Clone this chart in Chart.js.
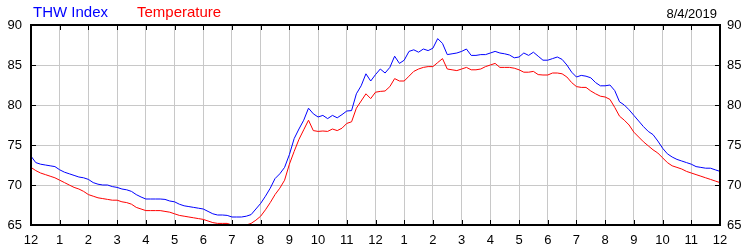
<!DOCTYPE html>
<html>
<head>
<meta charset="utf-8">
<script src="https://cdn.jsdelivr.net/npm/chart.js@4/dist/chart.umd.min.js"></script>
<style>
html,body{margin:0;padding:0;background:#fff;}
#wrap{width:750px;height:250px;position:relative;}
</style>
</head>
<body>
<div id="wrap"><canvas id="c" width="750" height="250"></canvas></div>
<script>
const seriesNames = ['THW Index', 'Temperature'];
const dateLabel = '8/4/2019';
const sampleMinutes = 10;
const hourLabels = ['12','1','2','3','4','5','6','7','8','9','10','11','12','1','2','3','4','5','6','7','8','9','10','11','12'];
const yTicks = [65, 70, 75, 80, 85, 90];

const thwIndex = [
73.6,72.8,72.6,72.5,72.4,72.3,
71.9,71.6,71.4,71.2,71.0,70.9,
70.7,70.3,70.1,70.0,70.0,69.8,
69.7,69.5,69.4,69.2,68.8,68.5,
68.25,68.25,68.25,68.25,68.2,68.0,
67.9,67.6,67.4,67.3,67.2,67.1,
67.0,66.7,66.4,66.25,66.25,66.2,
66.0,66.0,66.0,66.1,66.3,67.0,
67.7,68.6,69.6,70.8,71.4,72.2,
73.8,75.8,77.0,78.1,79.6,78.9,
78.5,78.7,78.3,78.7,78.4,78.8,
79.25,79.3,81.4,82.4,83.9,83.0,
83.8,84.5,84.0,84.7,86.1,85.2,
85.6,86.7,86.9,86.6,87.0,86.8,
87.1,88.3,87.7,86.3,86.4,86.5,
86.7,87.0,86.2,86.2,86.3,86.3,
86.5,86.7,86.5,86.4,86.25,85.9,
86.0,86.5,86.2,86.6,86.1,85.6,
85.6,85.8,86.0,85.7,85.0,84.1,
83.5,83.7,83.6,83.4,82.8,82.4,
82.4,82.5,81.8,80.4,80.0,79.4,
78.7,78.0,77.3,76.7,76.3,75.5,
74.6,73.9,73.5,73.2,73.0,72.8,
72.6,72.3,72.2,72.1,72.1,71.9,
71.7];

const temperature = [
72.2,71.8,71.5,71.3,71.1,70.9,
70.6,70.3,70.0,69.7,69.5,69.2,
68.8,68.6,68.4,68.3,68.2,68.1,
68.1,67.9,67.8,67.6,67.2,67.0,
66.8,66.8,66.8,66.8,66.7,66.6,
66.4,66.2,66.1,66.0,65.9,65.8,
65.7,65.5,65.3,65.2,65.2,65.2,
65.0,65.0,65.0,65.0,65.2,65.6,
66.1,66.9,67.8,68.8,69.6,70.6,
72.6,74.2,75.7,76.9,78.1,76.8,
76.7,76.75,76.7,77.0,76.8,77.1,
77.7,77.9,79.6,80.5,81.4,80.8,
81.6,81.7,81.75,82.3,83.3,83.0,
83.0,83.6,84.2,84.5,84.7,84.8,
84.8,85.3,85.8,84.5,84.4,84.3,
84.5,84.7,84.4,84.4,84.5,84.8,
85.0,85.2,84.7,84.7,84.7,84.6,
84.4,84.1,84.1,84.2,83.8,83.75,
83.75,84.0,84.0,83.9,83.5,82.8,
82.3,82.2,82.2,81.75,81.4,81.1,
81.0,80.7,79.7,78.6,78.1,77.5,
76.6,76.0,75.4,74.9,74.4,74.0,
73.4,72.8,72.4,72.2,72.0,71.7,
71.5,71.3,71.1,70.9,70.7,70.5,
70.3];

const toPoints = arr => arr.map((v, i) => ({x: i * sampleMinutes / 60, y: v}));

const FONT = 'Liberation Sans, Arial, sans-serif';

const framePlugin = {
  id: 'frame',
  afterDatasetsDraw(chart) {
    const {ctx, chartArea: a, scales} = chart;
    ctx.save();
    // inward tick marks
    ctx.strokeStyle = '#000';
    ctx.lineWidth = 1;
    ctx.beginPath();
    for (let h = 0; h < hourLabels.length; h++) {
      const x = Math.round(scales.x.getPixelForValue(h)) + 0.5;
      ctx.moveTo(x, a.top); ctx.lineTo(x, a.top + 5);
      ctx.moveTo(x, a.bottom); ctx.lineTo(x, a.bottom - 5);
    }
    yTicks.forEach(v => {
      const y = Math.round(scales.y.getPixelForValue(v)) + 0.5;
      ctx.moveTo(a.left, y); ctx.lineTo(a.left + 5, y);
      ctx.moveTo(a.right, y); ctx.lineTo(a.right - 5, y);
    });
    ctx.stroke();
    // frame
    ctx.lineWidth = 2;
    ctx.strokeRect(Math.round(a.left), Math.round(a.top), Math.round(a.right - a.left), Math.round(a.bottom - a.top));
    // titles
    ctx.font = '15px ' + FONT;
    ctx.textBaseline = 'alphabetic';
    ctx.textAlign = 'left';
    ctx.fillStyle = '#0000ff';
    ctx.fillText(seriesNames[0], 33, 17);
    ctx.fillStyle = '#ff0000';
    ctx.fillText(seriesNames[1], 137, 17);
    ctx.font = '13px ' + FONT;
    ctx.fillStyle = '#000';
    ctx.textAlign = 'right';
    ctx.fillText(dateLabel, 717, 18);
    ctx.restore();
  }
};

new Chart(document.getElementById('c'), {
  type: 'line',
  data: {
    datasets: [
      {label: seriesNames[0], data: toPoints(thwIndex), borderColor: '#0000ff', borderWidth: 1, pointRadius: 0, tension: 0, fill: false, yAxisID: 'y'},
      {label: seriesNames[1], data: toPoints(temperature), borderColor: '#ff0000', borderWidth: 1, pointRadius: 0, tension: 0, fill: false, yAxisID: 'y'}
    ]
  },
  options: {
    responsive: false,
    animation: false,
    devicePixelRatio: 1,
    layout: {padding: {top: 25, left: 0, right: 0, bottom: 0}},
    plugins: {legend: {display: false}, tooltip: {enabled: false}},
    scales: {
      x: {
        type: 'linear', min: 0, max: 24,
        ticks: {stepSize: 1, autoSkip: false, maxRotation: 0, color: '#000', font: {family: FONT, size: 13}, padding: 8,
          callback: v => hourLabels[v]},
        grid: {color: '#c8c8c8', lineWidth: 1, drawTicks: false},
        border: {display: false},
        afterFit: s => { s.height = 25; }
      },
      y: {
        position: 'left', min: 65, max: 90,
        ticks: {stepSize: 5, color: '#000', font: {family: FONT, size: 13}, padding: 9},
        grid: {color: '#c8c8c8', lineWidth: 1, drawTicks: false},
        border: {display: false},
        afterFit: s => { s.width = 31; }
      },
      y2: {
        position: 'right', min: 65, max: 90,
        ticks: {stepSize: 5, color: '#000', font: {family: FONT, size: 13}, padding: 7},
        grid: {display: false, drawTicks: false},
        border: {display: false},
        afterFit: s => { s.width = 30; }
      }
    }
  },
  plugins: [framePlugin]
});
</script>
</body>
</html>
